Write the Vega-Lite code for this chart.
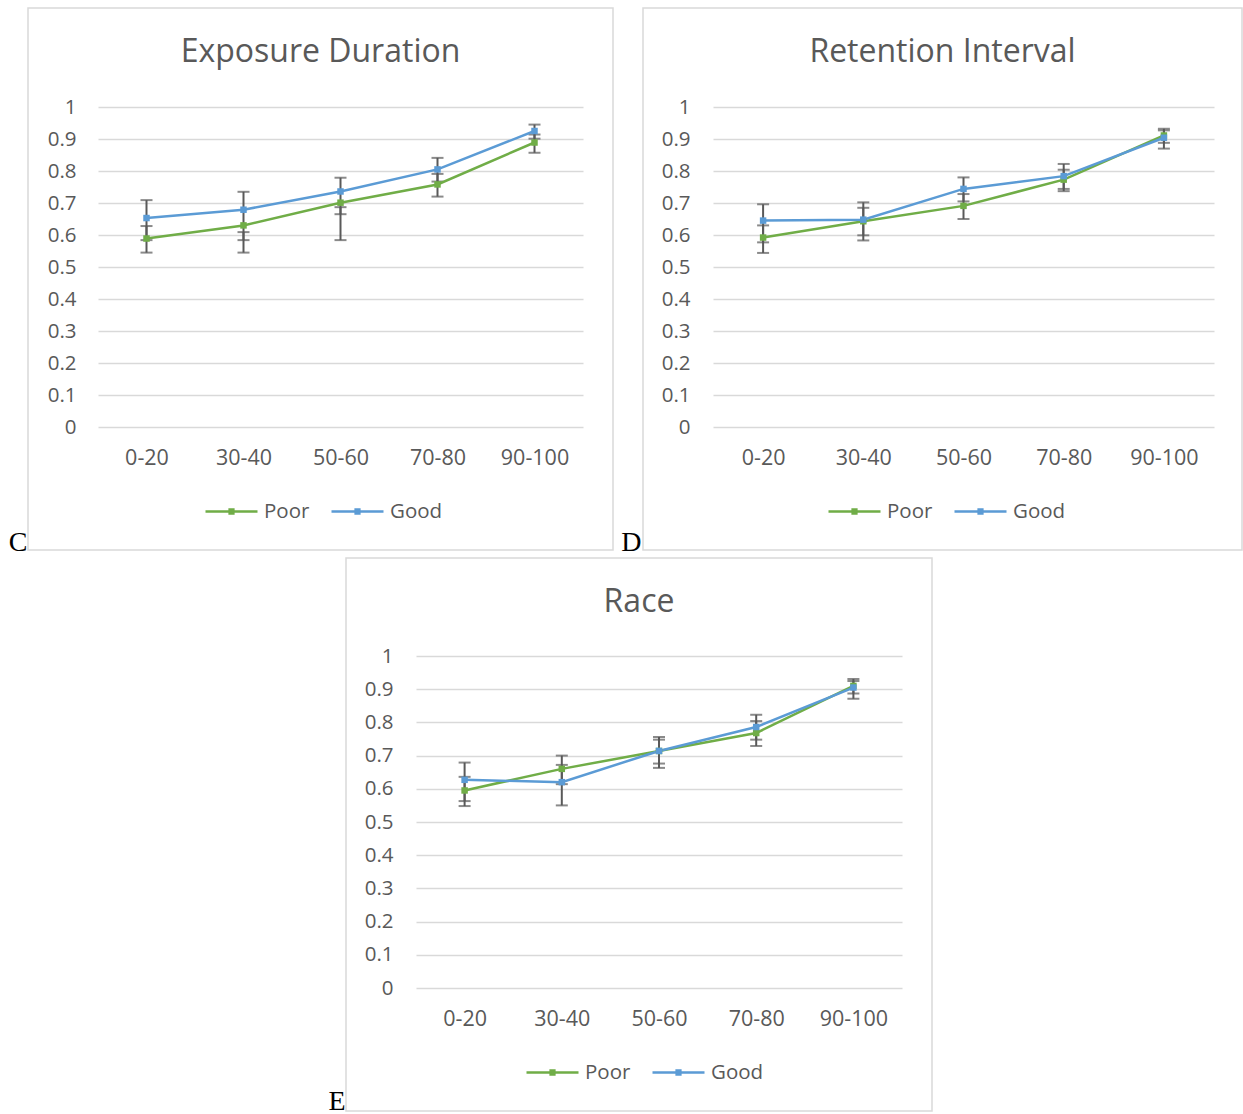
{
  "$schema": "https://vega.github.io/schema/vega-lite/v6.json",
  "background": "white",
  "padding": {"left": 7, "top": 7, "right": 0, "bottom": 0},
  "spacing": 0,
  "resolve": {"scale": {"color": "independent", "fill": "independent"}},
  "config": {
    "view": {"stroke": "#d9d9d9", "strokeWidth": 1.5},
    "font": "Open Sans",
    "axis": {
      "labelFont": "Open Sans",
      "labelFontSize": 20.5,
      "labelColor": "#595959",
      "domain": false,
      "ticks": false,
      "tickSize": 0,
      "labelPadding": 0,
      "gridColor": "#d9d9d9",
      "gridWidth": 1.5
    },
    "axisX": {"labelFontSize": 21.5},
    "legend": {
      "orient": "none",
      "direction": "horizontal",
      "symbolType": "M-1,0H1M-0.12,-0.08H0.12M-0.12,-0.04H0.12M-0.12,0H0.12M-0.12,0.04H0.12M-0.12,0.08H0.12",
      "symbolSize": 2704,
      "symbolStrokeWidth": 2.5,
      "labelFont": "Open Sans",
      "labelFontSize": 20.5,
      "labelColor": "#595959",
      "labelOffset": 5,
      "columnPadding": 16,
      "padding": 0
    },
    "title": {
      "font": "Open Sans",
      "fontSize": 32,
      "fontWeight": "normal",
      "color": "#595959",
      "anchor": "middle",
      "frame": "group",
      "baseline": "alphabetic",
      "offset": -61
    }
  },
  "datasets": {
    "scores": [
      {"panel": "Exposure Duration", "range": "0-20", "group": "Poor", "mean": 0.589, "lo": 0.545, "hi": 0.628},
      {"panel": "Exposure Duration", "range": "30-40", "group": "Poor", "mean": 0.630, "lo": 0.545, "hi": 0.609},
      {"panel": "Exposure Duration", "range": "50-60", "group": "Poor", "mean": 0.701, "lo": 0.584, "hi": 0.687},
      {"panel": "Exposure Duration", "range": "70-80", "group": "Poor", "mean": 0.758, "lo": 0.720, "hi": 0.791},
      {"panel": "Exposure Duration", "range": "90-100", "group": "Poor", "mean": 0.889, "lo": 0.857, "hi": 0.914},
      {"panel": "Exposure Duration", "range": "0-20", "group": "Good", "mean": 0.653, "lo": 0.584, "hi": 0.709},
      {"panel": "Exposure Duration", "range": "30-40", "group": "Good", "mean": 0.679, "lo": 0.584, "hi": 0.735},
      {"panel": "Exposure Duration", "range": "50-60", "group": "Good", "mean": 0.736, "lo": 0.665, "hi": 0.779},
      {"panel": "Exposure Duration", "range": "70-80", "group": "Good", "mean": 0.805, "lo": 0.767, "hi": 0.841},
      {"panel": "Exposure Duration", "range": "90-100", "group": "Good", "mean": 0.925, "lo": 0.901, "hi": 0.945},
      {"panel": "Retention Interval", "range": "0-20", "group": "Poor", "mean": 0.592, "lo": 0.544, "hi": 0.630},
      {"panel": "Retention Interval", "range": "30-40", "group": "Poor", "mean": 0.643, "lo": 0.583, "hi": 0.685},
      {"panel": "Retention Interval", "range": "50-60", "group": "Poor", "mean": 0.691, "lo": 0.650, "hi": 0.728},
      {"panel": "Retention Interval", "range": "70-80", "group": "Poor", "mean": 0.773, "lo": 0.737, "hi": 0.804},
      {"panel": "Retention Interval", "range": "90-100", "group": "Poor", "mean": 0.911, "lo": 0.888, "hi": 0.932},
      {"panel": "Retention Interval", "range": "0-20", "group": "Good", "mean": 0.645, "lo": 0.577, "hi": 0.696},
      {"panel": "Retention Interval", "range": "30-40", "group": "Good", "mean": 0.648, "lo": 0.599, "hi": 0.702},
      {"panel": "Retention Interval", "range": "50-60", "group": "Good", "mean": 0.744, "lo": 0.705, "hi": 0.780},
      {"panel": "Retention Interval", "range": "70-80", "group": "Good", "mean": 0.784, "lo": 0.744, "hi": 0.822},
      {"panel": "Retention Interval", "range": "90-100", "group": "Good", "mean": 0.904, "lo": 0.870, "hi": 0.927},
      {"panel": "Race", "range": "0-20", "group": "Poor", "mean": 0.595, "lo": 0.548, "hi": 0.636},
      {"panel": "Race", "range": "30-40", "group": "Poor", "mean": 0.660, "lo": 0.614, "hi": 0.700},
      {"panel": "Race", "range": "50-60", "group": "Poor", "mean": 0.714, "lo": 0.663, "hi": 0.748},
      {"panel": "Race", "range": "70-80", "group": "Poor", "mean": 0.768, "lo": 0.729, "hi": 0.804},
      {"panel": "Race", "range": "90-100", "group": "Poor", "mean": 0.910, "lo": 0.887, "hi": 0.931},
      {"panel": "Race", "range": "0-20", "group": "Good", "mean": 0.627, "lo": 0.563, "hi": 0.679},
      {"panel": "Race", "range": "30-40", "group": "Good", "mean": 0.620, "lo": 0.550, "hi": 0.672},
      {"panel": "Race", "range": "50-60", "group": "Good", "mean": 0.714, "lo": 0.676, "hi": 0.756},
      {"panel": "Race", "range": "70-80", "group": "Good", "mean": 0.786, "lo": 0.748, "hi": 0.823},
      {"panel": "Race", "range": "90-100", "group": "Good", "mean": 0.905, "lo": 0.871, "hi": 0.925}
    ]
  },
  "vconcat": [
    {
      "spacing": 6,
      "resolve": {"scale": {"color": "independent", "fill": "independent"}},
      "hconcat": [
        {
          "width": 585,
          "height": 542,
          "data": {"name": "scores"},
          "transform": [{"filter": "datum.panel === 'Exposure Duration'"}],
          "title": {"text": "Exposure Duration"},
          "encoding": {
            "x": {
              "field": "range", "type": "nominal",
              "sort": ["0-20", "30-40", "50-60", "70-80", "90-100"],
              "scale": {"type": "point", "range": [70, 555], "padding": 0.5},
              "axis": {"orient": "bottom", "offset": -92, "labelAngle": 0, "labelBaseline": "middle", "grid": false,
                "title": "C", "titleFont": "Liberation Serif", "titleFontSize": 28, "titleFontWeight": "normal",
                "titleColor": "#000000", "titleAlign": "right", "titleBaseline": "alphabetic", "titleX": -1, "titleY": 92}
            }
          },
          "layer": [
            {"mark": {"type": "rule", "color": "#595959", "strokeWidth": 2},
             "encoding": {
               "y": {"field": "lo", "type": "quantitative", "title": null,
                     "scale": {"domain": [0, 1], "range": [419, 99], "nice": false, "zero": false},
                     "axis": {"values": [0, 0.1, 0.2, 0.3, 0.4, 0.5, 0.6, 0.7, 0.8, 0.9, 1], "format": "~g", "grid": true, "offset": -48, "title": null}},
               "y2": {"field": "hi"}}},
            {"mark": {"type": "tick", "color": "#595959", "size": 12, "thickness": 2},
             "encoding": {"y": {"field": "lo", "type": "quantitative", "title": null}}},
            {"mark": {"type": "tick", "color": "#595959", "size": 12, "thickness": 2},
             "encoding": {"y": {"field": "hi", "type": "quantitative", "title": null}}},
            {"mark": {"type": "line", "strokeWidth": 2.5},
             "encoding": {
               "y": {"field": "mean", "type": "quantitative", "title": null},
               "color": {"field": "group", "type": "nominal",
                         "scale": {"domain": ["Poor", "Good"], "range": ["#70ad47", "#5b9bd5"]},
                         "legend": {"title": null, "legendX": 176, "legendY": 476}}}},
            {"mark": {"type": "point", "shape": "square", "filled": true, "size": 42, "opacity": 1},
             "encoding": {
               "y": {"field": "mean", "type": "quantitative", "title": null},
               "fill": {"field": "group", "type": "nominal",
                        "scale": {"domain": ["Poor", "Good"], "range": ["#70ad47", "#5b9bd5"]},
                        "legend": null}}}
          ]
        },
        {
          "width": 599,
          "height": 542,
          "data": {"name": "scores"},
          "transform": [{"filter": "datum.panel === 'Retention Interval'"}],
          "title": {"text": "Retention Interval"},
          "encoding": {
            "x": {
              "field": "range", "type": "nominal",
              "sort": ["0-20", "30-40", "50-60", "70-80", "90-100"],
              "scale": {"type": "point", "range": [70, 571], "padding": 0.5},
              "axis": {"orient": "bottom", "offset": -92, "labelAngle": 0, "labelBaseline": "middle", "grid": false,
                "title": "D", "titleFont": "Liberation Serif", "titleFontSize": 28, "titleFontWeight": "normal",
                "titleColor": "#000000", "titleAlign": "right", "titleBaseline": "alphabetic", "titleX": -2, "titleY": 92}
            }
          },
          "layer": [
            {"mark": {"type": "rule", "color": "#595959", "strokeWidth": 2},
             "encoding": {
               "y": {"field": "lo", "type": "quantitative", "title": null,
                     "scale": {"domain": [0, 1], "range": [419, 99], "nice": false, "zero": false},
                     "axis": {"values": [0, 0.1, 0.2, 0.3, 0.4, 0.5, 0.6, 0.7, 0.8, 0.9, 1], "format": "~g", "grid": true, "offset": -47, "title": null}},
               "y2": {"field": "hi"}}},
            {"mark": {"type": "tick", "color": "#595959", "size": 12, "thickness": 2},
             "encoding": {"y": {"field": "lo", "type": "quantitative", "title": null}}},
            {"mark": {"type": "tick", "color": "#595959", "size": 12, "thickness": 2},
             "encoding": {"y": {"field": "hi", "type": "quantitative", "title": null}}},
            {"mark": {"type": "line", "strokeWidth": 2.5},
             "encoding": {
               "y": {"field": "mean", "type": "quantitative", "title": null},
               "color": {"field": "group", "type": "nominal",
                         "scale": {"domain": ["Poor", "Good"], "range": ["#70ad47", "#5b9bd5"]},
                         "legend": {"title": null, "legendX": 184, "legendY": 476}}}},
            {"mark": {"type": "point", "shape": "square", "filled": true, "size": 42, "opacity": 1},
             "encoding": {
               "y": {"field": "mean", "type": "quantitative", "title": null},
               "fill": {"field": "group", "type": "nominal",
                        "scale": {"domain": ["Poor", "Good"], "range": ["#70ad47", "#5b9bd5"]},
                        "legend": null}}}
          ]
        }
      ]
    },
    {
      "spacing": 0,
      "resolve": {"scale": {"color": "independent", "fill": "independent"}},
      "hconcat": [
        {
          "width": 298,
          "height": 20,
          "data": {"values": []},
          "mark": "point",
          "view": {"stroke": "transparent"}
        },
        {
          "width": 586,
          "height": 553,
          "data": {"name": "scores"},
          "transform": [{"filter": "datum.panel === 'Race'"}],
          "title": {"text": "Race"},
          "encoding": {
            "x": {
              "field": "range", "type": "nominal",
              "sort": ["0-20", "30-40", "50-60", "70-80", "90-100"],
              "scale": {"type": "point", "range": [70, 556], "padding": 0.5},
              "axis": {"orient": "bottom", "offset": -92, "labelAngle": 0, "labelBaseline": "middle", "grid": false,
                "title": "E", "titleFont": "Liberation Serif", "titleFontSize": 28, "titleFontWeight": "normal",
                "titleColor": "#000000", "titleAlign": "right", "titleBaseline": "alphabetic", "titleX": -1, "titleY": 90}
            }
          },
          "layer": [
            {"mark": {"type": "rule", "color": "#595959", "strokeWidth": 2},
             "encoding": {
               "y": {"field": "lo", "type": "quantitative", "title": null,
                     "scale": {"domain": [0, 1], "range": [430, 98], "nice": false, "zero": false},
                     "axis": {"values": [0, 0.1, 0.2, 0.3, 0.4, 0.5, 0.6, 0.7, 0.8, 0.9, 1], "format": "~g", "grid": true, "offset": -47, "title": null}},
               "y2": {"field": "hi"}}},
            {"mark": {"type": "tick", "color": "#595959", "size": 12, "thickness": 2},
             "encoding": {"y": {"field": "lo", "type": "quantitative", "title": null}}},
            {"mark": {"type": "tick", "color": "#595959", "size": 12, "thickness": 2},
             "encoding": {"y": {"field": "hi", "type": "quantitative", "title": null}}},
            {"mark": {"type": "line", "strokeWidth": 2.5},
             "encoding": {
               "y": {"field": "mean", "type": "quantitative", "title": null},
               "color": {"field": "group", "type": "nominal",
                         "scale": {"domain": ["Poor", "Good"], "range": ["#70ad47", "#5b9bd5"]},
                         "legend": {"title": null, "legendX": 179, "legendY": 487}}}},
            {"mark": {"type": "point", "shape": "square", "filled": true, "size": 42, "opacity": 1},
             "encoding": {
               "y": {"field": "mean", "type": "quantitative", "title": null},
               "fill": {"field": "group", "type": "nominal",
                        "scale": {"domain": ["Poor", "Good"], "range": ["#70ad47", "#5b9bd5"]},
                        "legend": null}}}
          ]
        }
      ]
    }
  ]
}
